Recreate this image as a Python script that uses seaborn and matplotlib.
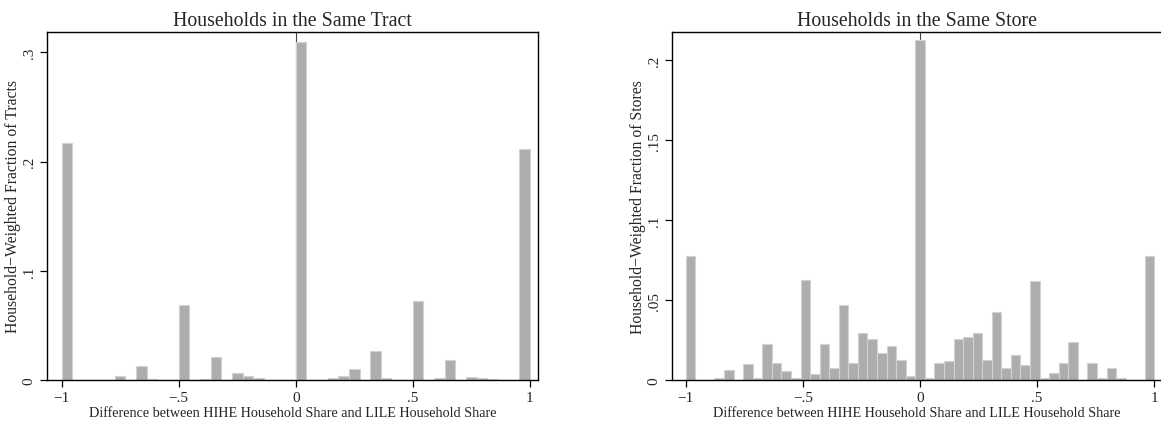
###############################################
# Histogramlar: Same Tract / Same Store
###############################################

import numpy as np
import pandas as pd
import seaborn as sns
import matplotlib.pyplot as plt

# sol panel: 44 bin, -1 ile 1 arasi
tract_heights = [0.217, 0, 0, 0, 0, 0.0035, 0, 0.013, 0.001, 0, 0,
                 0.069, 0, 0.0012, 0.0215, 0, 0.0064, 0.004, 0.0017, 0, 0, 0,
                 0.310, 0, 0, 0.0022, 0.0034, 0.0098, 0, 0.0263, 0.0018, 0, 0,
                 0.0723, 0, 0.0015, 0.0182, 0, 0.0027, 0.0015, 0.0013, 0, 0, 0.212]

# sag panel: 49 bin, -1 ile 1 arasi
store_heights = [0.0775, 0, 0, 0.001, 0.0062, 0, 0.0102, 0.0015, 0.0225, 0.0107,
                 0.0058, 0.001, 0.0624, 0.0038, 0.0224, 0.0078, 0.047, 0.0106,
                 0.0295, 0.0258, 0.0167, 0.021, 0.0124, 0.0024, 0.2125, 0.001,
                 0.0108, 0.0118, 0.0254, 0.0268, 0.0292, 0.0128, 0.0428, 0.0074,
                 0.0157, 0.0096, 0.062, 0.001, 0.0042, 0.0107, 0.0236, 0,
                 0.0107, 0.001, 0.0074, 0.0012, 0, 0, 0.0775]

titles = ["Households in the Same Tract", "Households in the Same Store"]
ylabels = ["Household\u2212Weighted Fraction of Tracts",
           "Household\u2212Weighted Fraction of Stores"]
xlabel = "Difference between HIHE Household Share and LILE Household Share"

xticks = [-1, -0.5, 0, 0.5, 1]
xticklabels = ["\u22121", "\u2212.5", "0", ".5", "1"]
tract_yticks = [0, 0.1, 0.2, 0.3]
tract_yticklabels = ["0", ".1", ".2", ".3"]
store_yticks = [0, 0.05, 0.1, 0.15, 0.2]
store_yticklabels = ["0", ".05", ".1", ".15", ".2"]

sns.set_style("white")
plt.rcParams['font.family'] = ['Liberation Serif', 'DejaVu Serif']

fig = plt.figure(figsize=(11.61, 4.27), dpi=100)
ax1 = fig.add_axes([0.0402, 0.1077, 0.4232, 0.8157])
ax2 = fig.add_axes([0.5786, 0.1077, 0.4227, 0.8157])


def draw_hist(ax, heights, yticks, yticklabels, ylim, xlim, title, ylabel):
    n = len(heights)
    edges = np.linspace(-1, 1, n + 1)
    df = pd.DataFrame({"diff": (edges[:-1] + edges[1:]) / 2,
                       "frac": heights})
    ax.axvline(0, color="#444444", lw=0.8, zorder=0)
    sns.histplot(data=df, x="diff", weights="frac", bins=n, binrange=(-1, 1),
                 ax=ax, color="#adadad", edgecolor="#d2d2d2", linewidth=0.8,
                 alpha=1, zorder=2)
    ax.set_xlim(*xlim)
    ax.set_ylim(*ylim)
    ax.set_xticks(xticks)
    ax.set_xticklabels(xticklabels, fontsize=11)
    ax.set_yticks(yticks)
    ax.set_yticklabels(yticklabels, fontsize=11, rotation=90, va="center")
    ax.tick_params(direction="out", length=5, width=0.9, color="black",
                   bottom=True, left=True, pad=3)
    for s in ax.spines.values():
        s.set_color("black")
        s.set_linewidth(1.0)
    ax.set_title(title, fontsize=14.3, pad=5)
    ax.set_xlabel(xlabel, fontsize=10.2, labelpad=1)
    ax.set_ylabel(ylabel, fontsize=11.3, labelpad=1)


draw_hist(ax1, tract_heights, tract_yticks, tract_yticklabels,
          (0, 0.319), (-1.064, 1.035), titles[0], ylabels[0])
draw_hist(ax2, store_heights, store_yticks, store_yticklabels,
          (0, 0.218), (-1.06, 1.035), titles[1], ylabels[1])

fig.savefig("out.png", dpi=100)
